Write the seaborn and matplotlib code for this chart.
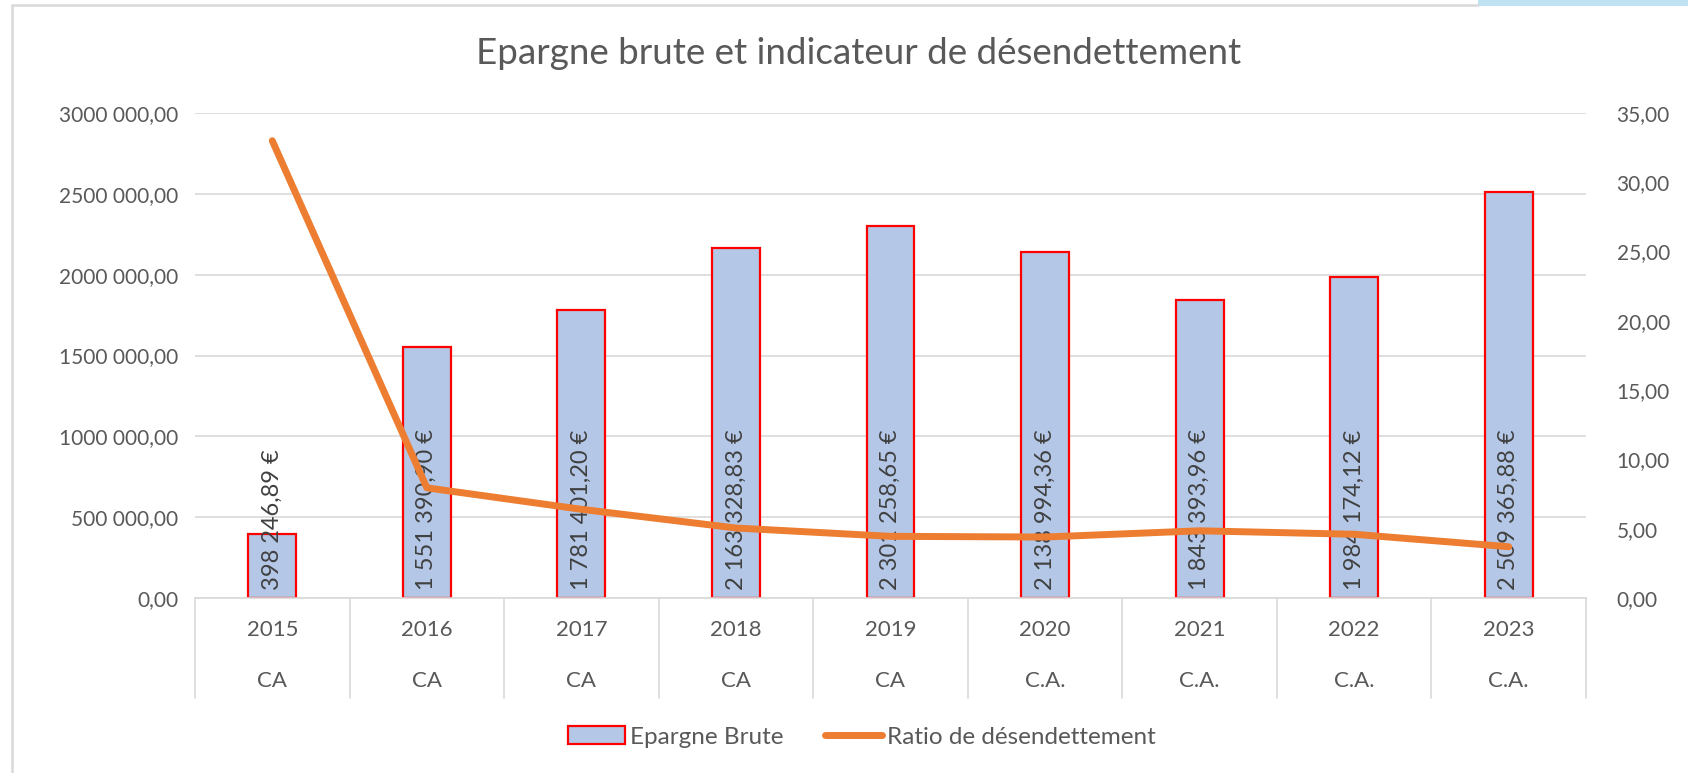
import numpy as np
import pandas as pd
import matplotlib
matplotlib.use("Agg")
import matplotlib.pyplot as plt
import seaborn as sns
from matplotlib.patches import Patch, Rectangle
from matplotlib.lines import Line2D
import matplotlib.transforms as mtransforms

# -------------------------------------------------
# Data
# -------------------------------------------------
annees = ["2015", "2016", "2017", "2018", "2019", "2020", "2021", "2022", "2023"]
types_compte = ["CA", "CA", "CA", "CA", "CA", "C.A.", "C.A.", "C.A.", "C.A."]
epargne_brute = [398246.89, 1551390.90, 1781401.20, 2163328.83, 2301258.65,
                 2138994.36, 1843393.96, 1984174.12, 2509365.88]
ratio_desendettement = [33.0, 7.95, 6.4, 5.05, 4.45, 4.4, 4.85, 4.6, 3.7]

left_ticks = [0, 500000, 1000000, 1500000, 2000000, 2500000, 3000000]
left_tick_labels = ["0,00", "500 000,00", "1000 000,00", "1500 000,00",
                    "2000 000,00", "2500 000,00", "3000 000,00"]
right_ticks = [0, 5, 10, 15, 20, 25, 30, 35]
right_tick_labels = ["0,00", "5,00", "10,00", "15,00", "20,00", "25,00", "30,00", "35,00"]

df = pd.DataFrame({
    "annee": annees,
    "type": types_compte,
    "epargne": epargne_brute,
    "ratio": ratio_desendettement,
})
df["pos"] = np.arange(len(df))


def fmt_euro(v):
    entier, dec = f"{v:,.2f}".split(".")
    return entier.replace(",", " ") + "," + dec + " €"


# -------------------------------------------------
# Style
# -------------------------------------------------
sns.set_theme(style="white")
plt.rcParams["font.family"] = ["Lato", "DejaVu Sans"]
TXT = "#595959"
GRID = "#D9D9D9"
BAR_FACE = "#B4C7E7"
BAR_EDGE = "#FF0000"
ORANGE = "#ED7D31"
FS = 15

fig = plt.figure(figsize=(16.88, 7.73), dpi=100)
ax = fig.add_axes([195 / 1688, 1 - 598 / 773, (1586 - 195) / 1688, (598 - 113) / 773])

# bars
sns.barplot(data=df, x="annee", y="epargne", ax=ax, color=BAR_FACE,
            width=0.31, edgecolor=BAR_EDGE, linewidth=1.6, saturation=1)
ax.set_ylim(0, 3000000)
ax.set_yticks(left_ticks)
ax.set_yticklabels(left_tick_labels, fontsize=FS, color=TXT)
ax.yaxis.grid(True, color=GRID, linewidth=1.2)
ax.set_axisbelow(True)
ax.tick_params(axis="both", length=0, pad=12)
ax.set_xticklabels([])
ax.set_xlabel("")
ax.set_ylabel("")
for s in ["left", "right", "top"]:
    ax.spines[s].set_visible(False)
ax.spines["bottom"].set_color(GRID)
ax.spines["bottom"].set_linewidth(1.2)

# value labels inside bar bases
for i, v in enumerate(df["epargne"]):
    ax.annotate(fmt_euro(v), xy=(i, 0), xytext=(0, 6), textcoords="offset points",
                rotation=90, ha="center", va="bottom", fontsize=17, color="#404040")

# line on secondary axis
ax2 = ax.twinx()
sns.lineplot(data=df, x="pos", y="ratio", ax=ax2, color=ORANGE, linewidth=5,
             solid_capstyle="round", legend=False)
ax2.set_ylim(0, 35)
ax2.set_yticks(right_ticks)
ax2.set_yticklabels(right_tick_labels, fontsize=FS, color=TXT)
ax2.tick_params(axis="y", length=0, pad=22)
ax2.set_ylabel("")
ax2.set_xlabel("")
for s in ["left", "right", "top", "bottom"]:
    ax2.spines[s].set_visible(False)
ax.set_xlim(-0.5, len(df) - 0.5)

# two-level category axis
trans = mtransforms.blended_transform_factory(ax.transData, ax.transAxes)
for i, (a, t) in enumerate(zip(df["annee"], df["type"])):
    ax.text(i, -0.066, a, transform=trans, ha="center", va="center", fontsize=16, color=TXT)
    ax.text(i, -0.172, t, transform=trans, ha="center", va="center", fontsize=16, color=TXT)
for b in np.arange(len(df) + 1) - 0.5:
    ax.add_line(Line2D([b, b], [0, -0.206], transform=trans, color=GRID,
                       linewidth=1.2, clip_on=False))

# title
fig.text(859 / 1688, 1 - 54 / 773, "Epargne brute et indicateur de désendettement",
         ha="center", va="center", fontsize=26.5, color=TXT)

# legend
handles = [Patch(facecolor=BAR_FACE, edgecolor=BAR_EDGE, linewidth=1.6),
           Line2D([0], [0], color=ORANGE, linewidth=5, solid_capstyle="round")]
fig.legend(handles, ["Epargne Brute", "Ratio de désendettement"],
           loc="center", bbox_to_anchor=(862 / 1688, 1 - 737 / 773), ncol=2,
           frameon=False, fontsize=17.5, labelcolor=TXT, handlelength=2.35,
           handleheight=0.75, handletextpad=0.2, columnspacing=1.7)

# chart area border (cropped screenshot) and blue strip top right
fig.add_artist(Line2D([12 / 1688, 12 / 1688], [0, 1 - 5 / 773], color=GRID, linewidth=1.8))
fig.add_artist(Line2D([12 / 1688, 1478 / 1688], [1 - 5 / 773, 1 - 5 / 773], color=GRID, linewidth=1.8))
fig.add_artist(Rectangle((1478 / 1688, 1 - 6 / 773), 210 / 1688, 6 / 773,
                         transform=fig.transFigure, color="#BFE3F2", linewidth=0))

fig.savefig("out.png", dpi=100)
plt.close(fig)
